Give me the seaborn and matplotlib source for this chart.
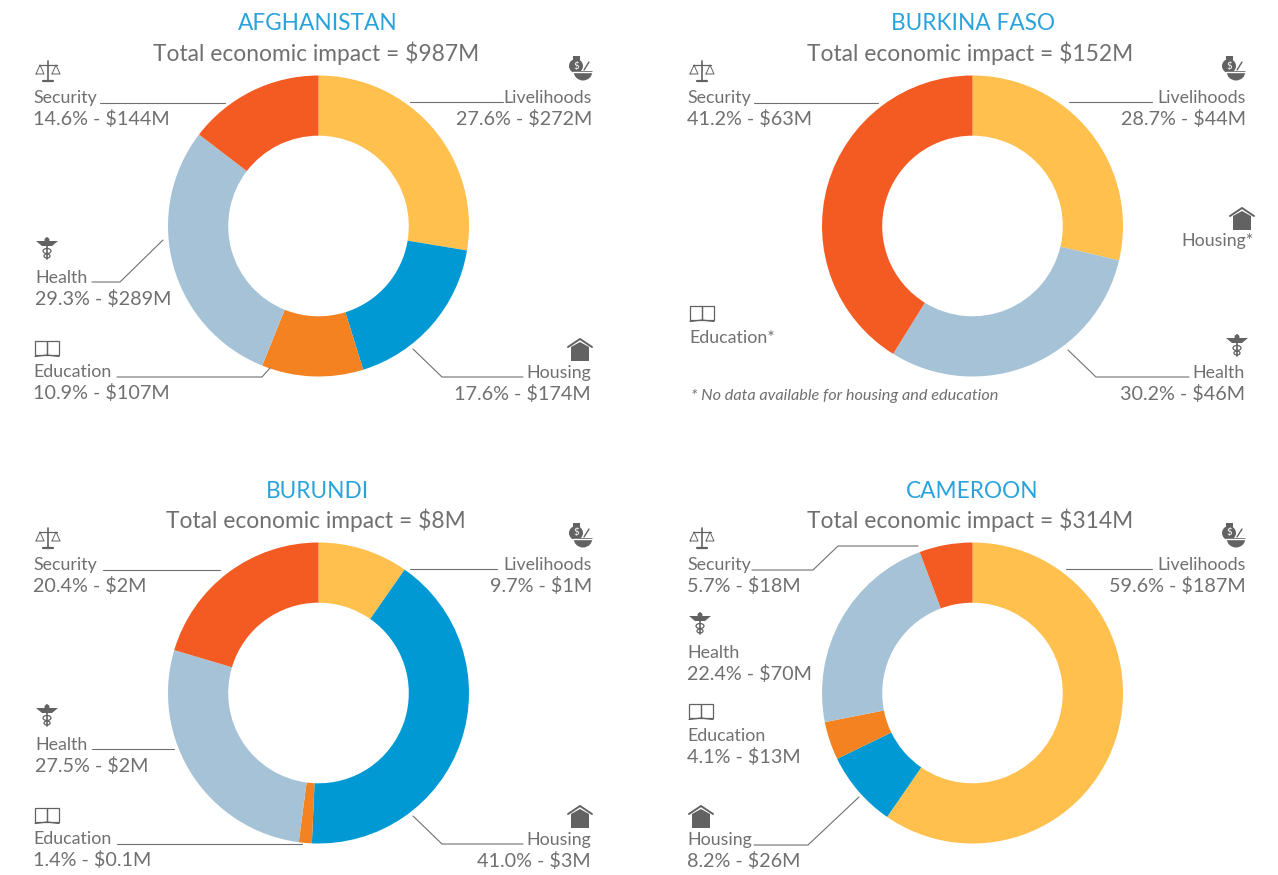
import seaborn as sns
import matplotlib.pyplot as plt
from matplotlib.patches import Polygon, Rectangle, Circle, Ellipse, Wedge

sectors = ['Livelihoods', 'Housing', 'Education', 'Health', 'Security']
palette = sns.color_palette(['#FFC04D', '#0099D4', '#F58220', '#A5C2D7', '#F45B23'])

countries = ['AFGHANISTAN', 'BURKINA FASO', 'BURUNDI', 'CAMEROON']
totals = ['$987M', '$152M', '$8M', '$314M']

afghanistan_pct = [27.6, 17.6, 10.9, 29.3, 14.6]
burkina_pct = [28.7, 0, 0, 30.2, 41.2]
burundi_pct = [9.7, 41.0, 1.4, 27.5, 20.4]
cameroon_pct = [59.6, 8.2, 4.1, 22.4, 5.7]

afghanistan_usd = ['$272M', '$174M', '$107M', '$289M', '$144M']
burkina_usd = ['$44M', None, None, '$46M', '$63M']
burundi_usd = ['$1M', '$3M', '$0.1M', '$2M', '$2M']
cameroon_usd = ['$187M', '$26M', '$13M', '$70M', '$18M']

all_pct = [afghanistan_pct, burkina_pct, burundi_pct, cameroon_pct]
all_usd = [afghanistan_usd, burkina_usd, burundi_usd, cameroon_usd]

W, H = 1278, 875
GREY = '#707070'
ICON = '#626262'
BLUE = '#29A3DC'

# pixel layout per panel: donut centre, title centre, subtitle centre
centres = [(318.5, 226), (972.5, 226), (318.5, 693), (972.5, 693)]
title_pos = [(318, 24), (973, 24), (318, 491), (972, 491)]
sub_pos = [(316, 53), (970, 53), (316, 520), (970, 520)]

# per sector: text x, ha, label y, icon x, icon y, leader polyline
layouts = [
    {
        'Livelihoods': (592, 'right', 98, 581, 68, [(410, 102), (503, 102)]),
        'Housing': (591, 'right', 373, 580, 350, [(413, 349), (442, 377), (523, 377)]),
        'Education': (33, 'left', 372, 47, 349, [(117, 377), (262, 377), (270, 368)]),
        'Health': (35, 'left', 278, 47, 248, [(92, 282), (120, 282), (163, 240)]),
        'Security': (33, 'left', 98, 48, 72, [(100, 103), (225, 103)]),
    },
    {
        'Livelihoods': (1246, 'right', 98, 1234, 68, [(1069, 102), (1152, 102)]),
        'Housing': (1254, 'right', 241, 1242, 219, None),
        'Education': (689, 'left', 338, 702, 314, None),
        'Health': (1245, 'right', 373, 1237, 345, [(1068, 350), (1096, 377), (1189, 377)]),
        'Security': (687, 'left', 98, 702, 72, [(754, 103), (878, 103)]),
    },
    {
        'Livelihoods': (592, 'right', 565, 581, 535, [(410, 569), (497, 569)]),
        'Housing': (591, 'right', 840, 580, 817, [(413, 816), (442, 844), (523, 844)]),
        'Education': (33, 'left', 839, 47, 816, [(117, 844), (302, 844)]),
        'Health': (35, 'left', 745, 47, 715, [(92, 749), (174, 749)]),
        'Security': (33, 'left', 565, 48, 539, [(103, 570), (220, 570)]),
    },
    {
        'Livelihoods': (1246, 'right', 565, 1234, 535, [(1066, 569), (1152, 569)]),
        'Housing': (687, 'left', 840, 701, 817, [(754, 845), (808, 845), (859, 797)]),
        'Education': (687, 'left', 736, 701, 712, None),
        'Health': (687, 'left', 653, 700, 623, None),
        'Security': (687, 'left', 565, 702, 539, [(752, 570), (813, 570), (838, 546), (918, 546)]),
    },
]


def draw_scale(ax, x, y):
    ax.plot([x, x], [y - 11, y + 8], color=ICON, lw=1.2)
    ax.plot([x - 5, x + 5], [y + 9, y + 9], color=ICON, lw=1.6)
    ax.plot([x - 9, x + 9], [y - 7, y - 7], color=ICON, lw=0.9)
    for dx in (-8, 8):
        ax.plot([x + dx - 4, x + dx, x + dx + 4, x + dx - 4],
                [y + 2, y - 7, y + 2, y + 2], color=ICON, lw=0.7)


def draw_book(ax, x, y):
    for dx in (-12, 0):
        ax.add_patch(Rectangle((x + dx, y - 8), 12, 14, fill=False, ec=ICON, lw=0.9))
    ax.plot([x - 12, x, x + 12], [y + 7.5, y + 6, y + 7.5], color=ICON, lw=0.9)


def draw_house(ax, x, y):
    ax.add_patch(Polygon([(x - 9, y - 3), (x, y - 8), (x + 9, y - 3), (x + 9, y + 11), (x - 9, y + 11)],
                         color=ICON, lw=0))
    ax.plot([x - 12, x, x + 12], [y - 3, y - 11, y - 3], color=ICON, lw=1.4)


def draw_caduceus(ax, x, y):
    ax.add_patch(Polygon([(x - 11, y - 7), (x + 11, y - 7), (x + 5, y - 2), (x - 5, y - 2)], color=ICON, lw=0))
    ax.add_patch(Circle((x, y - 8), 2.5, color=ICON, lw=0))
    ax.plot([x, x], [y - 10, y + 11], color=ICON, lw=1.2)
    ax.add_patch(Ellipse((x, y + 3), 8, 5, fill=False, ec=ICON, lw=0.9))
    ax.add_patch(Ellipse((x, y + 8), 6, 4, fill=False, ec=ICON, lw=0.9))


def draw_bowl(ax, x, y):
    ax.add_patch(Circle((x - 5, y - 2), 7, color=ICON, lw=0))
    ax.add_patch(Rectangle((x - 8, y - 12), 7, 4, color=ICON, lw=0))
    ax.add_patch(Wedge((x + 2, y + 3), 9.5, 0, 180, color=ICON, lw=0))
    ax.plot([x - 8, x + 12], [y + 3.5, y + 3.5], color='white', lw=1)
    ax.plot([x + 3, x + 8], [y + 2, y - 6], color=ICON, lw=1)
    ax.text(x - 5, y - 2, '$', color='white', fontsize=7, ha='center', va='center')


icons = {'Livelihoods': draw_bowl, 'Housing': draw_house, 'Education': draw_book,
         'Health': draw_caduceus, 'Security': draw_scale}

sns.set_theme(style='white')
plt.rcParams['font.family'] = ['Lato', 'DejaVu Sans']

fig = plt.figure(figsize=(W / 100, H / 100), dpi=100)

R = 150.5
for i in range(4):
    cx, cy = centres[i]
    ax = fig.add_axes([(cx - R) / W, 1 - (cy + R) / H, 2 * R / W, 2 * R / H])
    ax.pie(all_pct[i], colors=palette, startangle=90, counterclock=False, radius=1,
           wedgeprops={'width': 0.4, 'linewidth': 0})
    ax.set_xlim(-1, 1)
    ax.set_ylim(-1, 1)
    ax.axis('off')

# overlay in pixel coordinates for text, leaders and icons
over = fig.add_axes([0, 0, 1, 1], zorder=5)
over.set_xlim(0, W)
over.set_ylim(H, 0)
over.axis('off')
over.patch.set_alpha(0)

for i in range(4):
    over.text(*title_pos[i], countries[i], color=BLUE, fontsize=16.3,
              ha='center', va='center')
    over.text(*sub_pos[i], 'Total economic impact = ' + totals[i], color=GREY, fontsize=16.4,
              ha='center', va='center')
    for j, name in enumerate(sectors):
        tx, ha, ty, ix, iy, leader = layouts[i][name]
        icons[name](over, ix, iy)
        usd = all_usd[i][j]
        if usd is None:
            over.text(tx, ty, name + '*', color=GREY, fontsize=12.8, ha=ha, va='center')
            continue
        over.text(tx, ty, name, color=GREY, fontsize=12.8, ha=ha, va='center')
        over.text(tx, ty + 21, f'{all_pct[i][j]:.1f}% - {usd}', color=GREY, fontsize=14.2,
                  ha=ha, va='center')
        if leader:
            over.plot([p[0] for p in leader], [p[1] for p in leader], color=GREY, lw=0.8)

over.text(691, 396, '* No data available for housing and education', color=GREY, fontsize=11.7,
          style='italic', ha='left', va='center')

plt.savefig('out.png', dpi=100)
